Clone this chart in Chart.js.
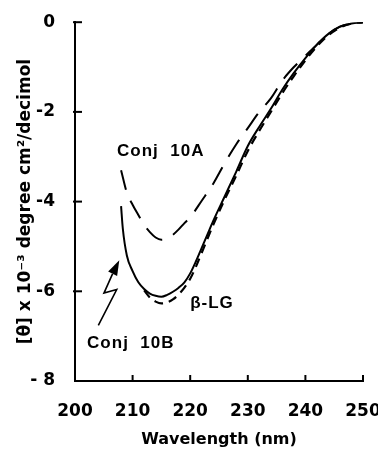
<!DOCTYPE html>
<html>
<head>
<meta charset="utf-8">
<script src="https://cdn.jsdelivr.net/npm/chart.js@4/dist/chart.umd.min.js"></script>
<style>
  html, body { margin: 0; padding: 0; background: #fff; }
  #cdChart { display: block; }
</style>
</head>
<body>
<canvas id="cdChart" width="378" height="452"></canvas>
<script>
// CD spectra, [θ] x 10^-3
var wlA = [208, 209, 210, 211, 212, 213, 214, 215, 216, 217, 218, 219, 220, 222, 224, 226, 228, 230, 232, 234, 236, 238, 240, 242, 244, 246, 248, 250];
var conj10A = [-3.3, -3.8, -4.07, -4.3, -4.52, -4.68, -4.8, -4.85, -4.82, -4.74, -4.62, -4.48, -4.35, -3.98, -3.6, -3.14, -2.72, -2.36, -2.0, -1.7, -1.3, -1.0, -0.75, -0.5, -0.26, -0.1, -0.03, 0];

var wlB = [208, 208.3, 209, 210, 211, 212, 213, 214, 215, 216, 217, 218, 219, 220, 221, 222, 223, 224, 226, 228, 230, 232, 234, 236, 238, 240, 242, 244, 246, 248, 250];
var conj10B = [-4.1, -4.6, -5.2, -5.55, -5.8, -5.95, -6.05, -6.1, -6.12, -6.08, -6.01, -5.92, -5.8, -5.6, -5.33, -5.03, -4.73, -4.43, -3.88, -3.33, -2.76, -2.33, -1.93, -1.5, -1.13, -0.8, -0.5, -0.26, -0.1, -0.03, 0];

var wlLG = [212, 213, 214, 215, 216, 217, 218, 219, 220, 221, 222, 224, 226, 228, 230, 232, 234, 236, 238, 240, 242, 244, 246, 248, 250];
var betaLG = [-5.98, -6.14, -6.23, -6.27, -6.25, -6.18, -6.07, -5.92, -5.72, -5.45, -5.14, -4.52, -3.95, -3.42, -2.87, -2.42, -2.0, -1.58, -1.2, -0.85, -0.54, -0.29, -0.12, -0.03, 0];

var xTicks = [200, 210, 220, 230, 240, 250];
var yTicks = [0, -2, -4, -6, -8];
var yTickLabels = ['0', '-2', '-4', '-6', '- 8'];

function pts(xs, ys) {
  return xs.map(function (x, i) { return {x: x, y: ys[i]}; });
}

// labels and the little lightning arrow, placed in data units
var notes = [
  {text: 'Conj  10A', wl: 207.3, val: -2.98},
  {text: 'Conj  10B', wl: 202.1, val: -7.27},
  {text: 'β-LG', wl: 220.0, val: -6.38}
];
var arrowPath = [[204.05, -6.76], [207.24, -5.96], [205.03, -6.04], [206.42, -5.64], [207.69, -5.31]];

var innerTicks = {
  id: 'innerTicks',
  afterDraw: function (c) {
    var ctx = c.ctx, xs = c.scales.x, ys = c.scales.y, a = c.chartArea;
    ctx.save();
    ctx.strokeStyle = '#000';
    ctx.lineWidth = 2;
    xTicks.forEach(function (v) {
      if (v === xs.min) return;
      var px = xs.getPixelForValue(v);
      ctx.beginPath(); ctx.moveTo(px, a.bottom); ctx.lineTo(px, a.bottom - 6); ctx.stroke();
    });
    yTicks.forEach(function (v) {
      if (v === ys.min) return;
      var py = ys.getPixelForValue(v);
      ctx.beginPath(); ctx.moveTo(a.left - 2, py); ctx.lineTo(a.left + 7, py); ctx.stroke();
    });
    ctx.restore();
  }
};

var notesPlugin = {
  id: 'notes',
  afterDraw: function (c) {
    var ctx = c.ctx, xs = c.scales.x, ys = c.scales.y;
    ctx.save();
    ctx.fillStyle = '#000';
    ctx.font = 'bold 17px "Liberation Sans", Arial, sans-serif';
    ctx.letterSpacing = '1px';
    ctx.textBaseline = 'alphabetic';
    notes.forEach(function (n) {
      ctx.fillText(n.text, xs.getPixelForValue(n.wl), ys.getPixelForValue(n.val));
    });

    var p = arrowPath.map(function (q) { return [xs.getPixelForValue(q[0]), ys.getPixelForValue(q[1])]; });
    var tip = p[p.length - 1], prev = p[p.length - 2];
    var dx = tip[0] - prev[0], dy = tip[1] - prev[1], len = Math.sqrt(dx * dx + dy * dy);
    var ux = dx / len, uy = dy / len, hl = 15, hw = 5;
    var bx = tip[0] - ux * hl, by = tip[1] - uy * hl;
    ctx.strokeStyle = '#000';
    ctx.lineWidth = 1.6;
    ctx.beginPath();
    ctx.moveTo(p[0][0], p[0][1]);
    for (var i = 1; i < p.length - 1; i++) ctx.lineTo(p[i][0], p[i][1]);
    ctx.lineTo(bx, by);
    ctx.stroke();
    ctx.beginPath();
    ctx.moveTo(tip[0], tip[1]);
    ctx.lineTo(bx - uy * hw, by + ux * hw);
    ctx.lineTo(bx + uy * hw, by - ux * hw);
    ctx.closePath();
    ctx.fill();
    ctx.restore();
  }
};

var axisFont = {family: '"DejaVu Sans", sans-serif', weight: 'bold', size: 17};

var ctx = document.getElementById('cdChart').getContext('2d');
var chart = new Chart(ctx, {
  type: 'line',
  data: {
    datasets: [{
      label: 'Conj 10A',
      data: pts(wlA, conj10A),
      borderColor: '#000',
      borderWidth: 2,
      borderDash: [20, 12],
      pointRadius: 0,
      cubicInterpolationMode: 'monotone',
      fill: false
    }, {
      label: 'Conj 10B',
      data: pts(wlB, conj10B),
      borderColor: '#000',
      borderWidth: 2,
      pointRadius: 0,
      cubicInterpolationMode: 'monotone',
      fill: false
    }, {
      label: 'β-LG',
      data: pts(wlLG, betaLG),
      borderColor: '#000',
      borderWidth: 2.2,
      borderDash: [9, 6],
      pointRadius: 0,
      cubicInterpolationMode: 'monotone',
      fill: false
    }]
  },
  options: {
    responsive: false,
    animation: false,
    layout: {padding: {left: 0, right: 15, top: 21, bottom: 0}},
    plugins: {legend: {display: false}, tooltip: {enabled: false}},
    scales: {
      x: {
        type: 'linear',
        min: 200,
        max: 250,
        grid: {display: false},
        border: {display: true, color: '#000', width: 2},
        ticks: {stepSize: 10, padding: 12, color: '#000', font: axisFont, maxRotation: 0},
        title: {display: true, text: 'Wavelength (nm)', color: '#000', font: {family: '"DejaVu Sans", sans-serif', weight: 'bold', size: 16}, padding: {top: 0, bottom: 3}},
        afterFit: function (s) { s.height = 71; s.paddingRight = 15; s.paddingLeft = 0; }
      },
      y: {
        type: 'linear',
        min: -8,
        max: 0,
        grid: {display: false},
        border: {display: true, color: '#000', width: 2},
        ticks: {
          stepSize: 2, padding: 12, color: '#000', font: axisFont,
          callback: function (v) { var i = yTicks.indexOf(v); return i < 0 ? '' : yTickLabels[i]; }
        },
        title: {display: true, text: '[θ] x 10⁻³ degree cm²/decimol', color: '#000', font: {family: '"DejaVu Sans", sans-serif', weight: 'bold', size: 17}, padding: {top: 15, bottom: 0}},
        afterFit: function (s) { s.width = 75; }
      }
    }
  },
  plugins: [innerTicks, notesPlugin]
});
</script>
</body>
</html>
